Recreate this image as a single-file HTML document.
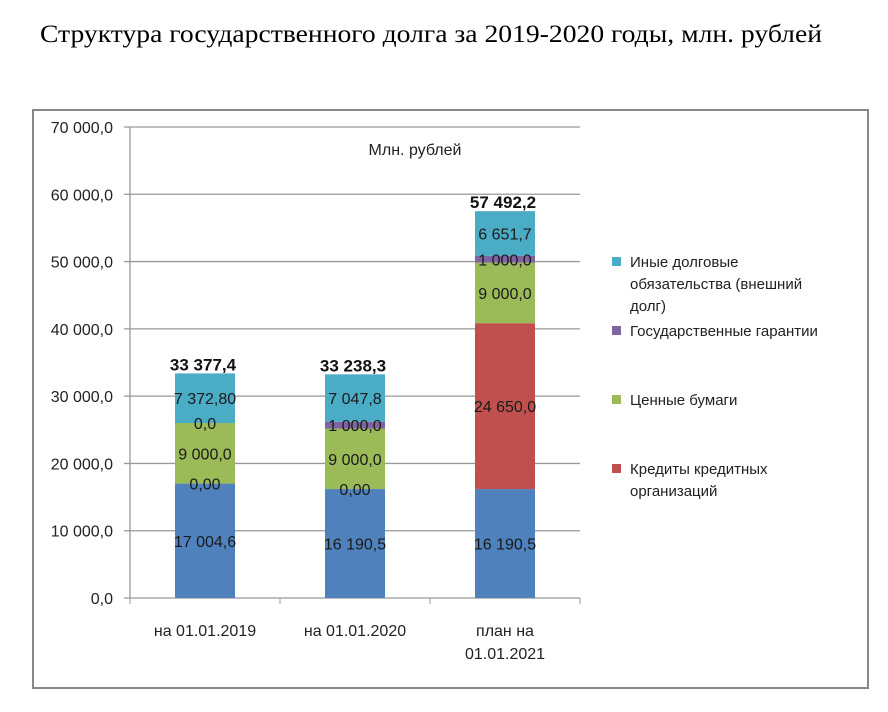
<!DOCTYPE html>
<html><head><meta charset="utf-8"><style>
body{margin:0;background:#fff;width:888px;height:707px;overflow:hidden;font-family:"Liberation Sans",sans-serif}
</style></head><body>
<svg width="888" height="707" xmlns="http://www.w3.org/2000/svg" id="svg">
<text x="40" y="42" font-family="Liberation Serif, serif" font-size="25" textLength="782" lengthAdjust="spacingAndGlyphs" fill="#000">Структура государственного долга за 2019-2020 годы, млн. рублей</text>
<rect x="33" y="110" width="835" height="578" fill="none" stroke="#888" stroke-width="2"/>
<text x="415" y="155" text-anchor="middle" font-size="16" fill="#222">Млн. рублей</text>
<g id="grid"></g><g id="bars"></g><g id="labels"></g>
<g font-size="15" fill="#222">
<rect x="612" y="257" width="9" height="9" fill="#4bacc6"/>
<text x="630" y="267">Иные долговые</text><text x="630" y="289">обязательства (внешний</text><text x="630" y="311">долг)</text>
<rect x="612" y="326" width="9" height="9" fill="#8064a2"/>
<text x="630" y="336">Государственные гарантии</text>
<rect x="612" y="395" width="9" height="9" fill="#9bbb59"/>
<text x="630" y="405">Ценные бумаги</text>
<rect x="612" y="464" width="9" height="9" fill="#c0504d"/>
<text x="630" y="474">Кредиты кредитных</text><text x="630" y="496">организаций</text>
</g>
</svg>
<script>
const categories=[["на 01.01.2019"],["на 01.01.2020"],["план на","01.01.2021"]];
const blueVals=[17004.6,16190.5,16190.5];
const redVals=[0,0,24650];
const greenVals=[9000,9000,9000];
const purpleVals=[0,1000,1000];
const cyanVals=[7372.8,7047.8,6651.7];
const totals=["33 377,4","33 238,3","57 492,2"];
const blueLbl=["17 004,6","16 190,5","16 190,5"];
const redLbl=["0,00","0,00","24 650,0"];
const greenLbl=["9 000,0","9 000,0","9 000,0"];
const purpleLbl=["0,0","1 000,0","1 000,0"];
const cyanLbl=["7 372,80","7 047,8","6 651,7"];
const yTicks=[0,10000,20000,30000,40000,50000,60000,70000];
const yTickLbl=["0,0","10 000,0","20 000,0","30 000,0","40 000,0","50 000,0","60 000,0","70 000,0"];
const NS="http://www.w3.org/2000/svg";
const x0=130,x1=580,yb=598,yt=127,ymax=70000;
const y=v=>yb-(v/ymax)*(yb-yt);
const cw=(x1-x0)/categories.length;
const cx=i=>x0+cw*(i+0.5);
function mk(t,a,p,txt){const e=document.createElementNS(NS,t);for(const k in a)e.setAttribute(k,a[k]);if(txt!==undefined)e.textContent=txt;p.appendChild(e);return e;}
const G=document.getElementById('grid'),B=document.getElementById('bars'),L=document.getElementById('labels');
yTicks.forEach((v,i)=>{
 const l=mk('line',{x1:x0-6,x2:x1,y1:y(v),y2:y(v),stroke:'#999','stroke-width':1.3},G);
 
 
 const t=mk('text',{x:113,y:y(v)+6,'text-anchor':'end','font-size':16,fill:'#222'},G,yTickLbl[i]);
 
 
});
const ax=mk('line',{x1:x0,x2:x0,y1:yt,y2:yb,stroke:'#999','stroke-width':1.3},G);


for(let i=0;i<=categories.length;i++){const tk=mk('line',{x1:x0+cw*i,x2:x0+cw*i,y1:yb,y2:yb+6,stroke:'#999'},G);
 
 }
const series=[[blueVals,'#4f81bd',blueLbl,'blue'],[redVals,'#c0504d',redLbl,'red'],[greenVals,'#9bbb59',greenLbl,'green'],[purpleVals,'#8064a2',purpleLbl,'purple'],[cyanVals,'#4bacc6',cyanLbl,'cyan']];
categories.forEach((c,i)=>{
 let acc=0;const bw=60;
 series.forEach(s=>{
  const v=s[0][i];const top=acc+v;
  const r=mk('rect',{x:cx(i)-bw/2,y:y(top),width:bw,height:y(acc)-y(top),fill:s[1]},B);
  
  
  const ly=v>0?(y(acc)+y(top))/2+6:y(acc)+6;
  const t=mk('text',{x:cx(i),y:ly,'text-anchor':'middle','font-size':16,fill:'#1a1a1a'},L,s[2][i]);
  
  
  acc=top;
 });
 const tt=mk('text',{x:cx(i)-2,y:y(acc)-3,'text-anchor':'middle','font-size':17,'font-weight':'bold',fill:'#111'},L,totals[i]);
 
 
 c.forEach((ln,j)=>{const t=mk('text',{x:cx(i),y:636+j*23,'text-anchor':'middle','font-size':16,fill:'#222'},L,ln);
  
  });
});
</script>
</body></html>
